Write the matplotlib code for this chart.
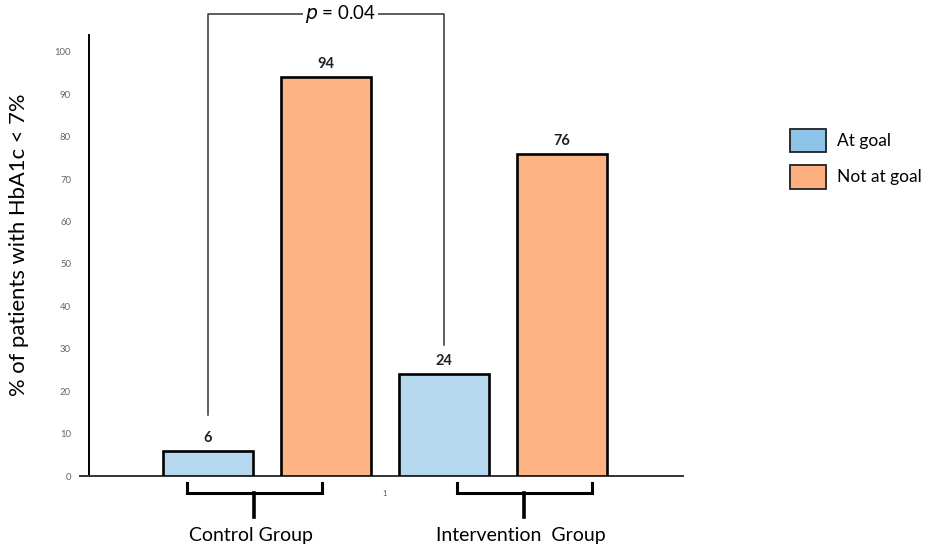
import matplotlib
matplotlib.use("Agg")
import matplotlib.pyplot as plt
from matplotlib.patches import Patch

plt.rcParams['font.family'] = ['Lato', 'DejaVu Sans']

# data
groups = ["Control Group", "Intervention  Group"]
series = ["At goal", "Not at goal"]
at_goal = [6, 24]
not_at_goal = [94, 76]
yticks = [0, 10, 20, 30, 40, 50, 60, 70, 80, 90, 100]
p_text = "$\\it{p}$ = 0.04"

bar_blue = "#B5D8EF"
bar_orange = "#FDB383"
leg_blue = "#8FC4E9"
leg_orange = "#FDAF80"

fig = plt.figure(figsize=(9.41, 5.47), dpi=100)
ax = fig.add_axes([80/941, 71/547, 603/941, 441/547])

# bar positions: two bars per group
xs_blue = [0, 2]
xs_orange = [1, 3]
w = 0.755
ax.bar(xs_blue, at_goal, width=w, color=bar_blue, edgecolor="black", linewidth=1.9, zorder=3)
ax.bar(xs_orange, not_at_goal, width=w, color=bar_orange, edgecolor="black", linewidth=1.9, zorder=3)

for x, v in list(zip(xs_blue, at_goal)) + list(zip(xs_orange, not_at_goal)):
    ax.text(x, v + 1.4, str(v), ha="center", va="bottom", fontsize=10.5,
            fontweight="bold", color="#222222")

ax.set_xlim(-1.085, 4.025)
ax.set_ylim(0, 104)

for s in ["top", "right"]:
    ax.spines[s].set_visible(False)
ax.spines["left"].set_position(("data", -1.008))
ax.spines["left"].set_linewidth(1.4)
ax.spines["bottom"].set_linewidth(1.4)
ax.spines["bottom"].set_color("#333333")

ax.set_yticks(yticks)
ax.set_yticklabels([str(t) for t in yticks], fontsize=6.8, color="#666666")
ax.tick_params(axis="y", length=0, pad=13)
ax.set_xticks([1.5])
ax.set_xticklabels(["1"], fontsize=5.5, color="#555555")
ax.tick_params(axis="x", length=0, pad=10)

ax.set_ylabel("% of patients with HbA1c < 7%", fontsize=15.8)
ax.yaxis.set_label_coords(-0.085, 0.525)

# significance bracket
top = 109
ax.plot([0, 0, 2, 2], [14.4, top, top, 30.9], color="#333333", linewidth=1.1,
        clip_on=False, zorder=2)
ax.text(1.12, top, p_text, ha="center", va="center", fontsize=13.5,
        bbox=dict(facecolor="white", edgecolor="none", pad=1.5), zorder=4)

# group braces
braces = [(-0.178, 0.966, 0.39), (2.11, 3.25, 2.68)]
for (x0, x1, xm), name in zip(braces, groups):
    ax.plot([x0, x0, x1, x1], [-1.65, -4.0, -4.0, -1.65], color="black",
            linewidth=2.2, clip_on=False, solid_joinstyle="miter")
    ax.plot([xm, xm], [-4.0, -9.7], color="black", linewidth=2.6, clip_on=False)
    ax.text(xm - 0.03, -14.0, name, ha="center", va="center", fontsize=14)

handles = [Patch(facecolor=leg_blue, edgecolor="#222222", linewidth=1.3),
           Patch(facecolor=leg_orange, edgecolor="#222222", linewidth=1.3)]
fig.legend(handles, series, loc="upper left", bbox_to_anchor=(774/941, 1 - 113/547),
           frameon=False, fontsize=12.5, handlelength=2.1, handleheight=1.7,
           labelspacing=0.75, handletextpad=0.65)

fig.savefig("out.png", dpi=100)
